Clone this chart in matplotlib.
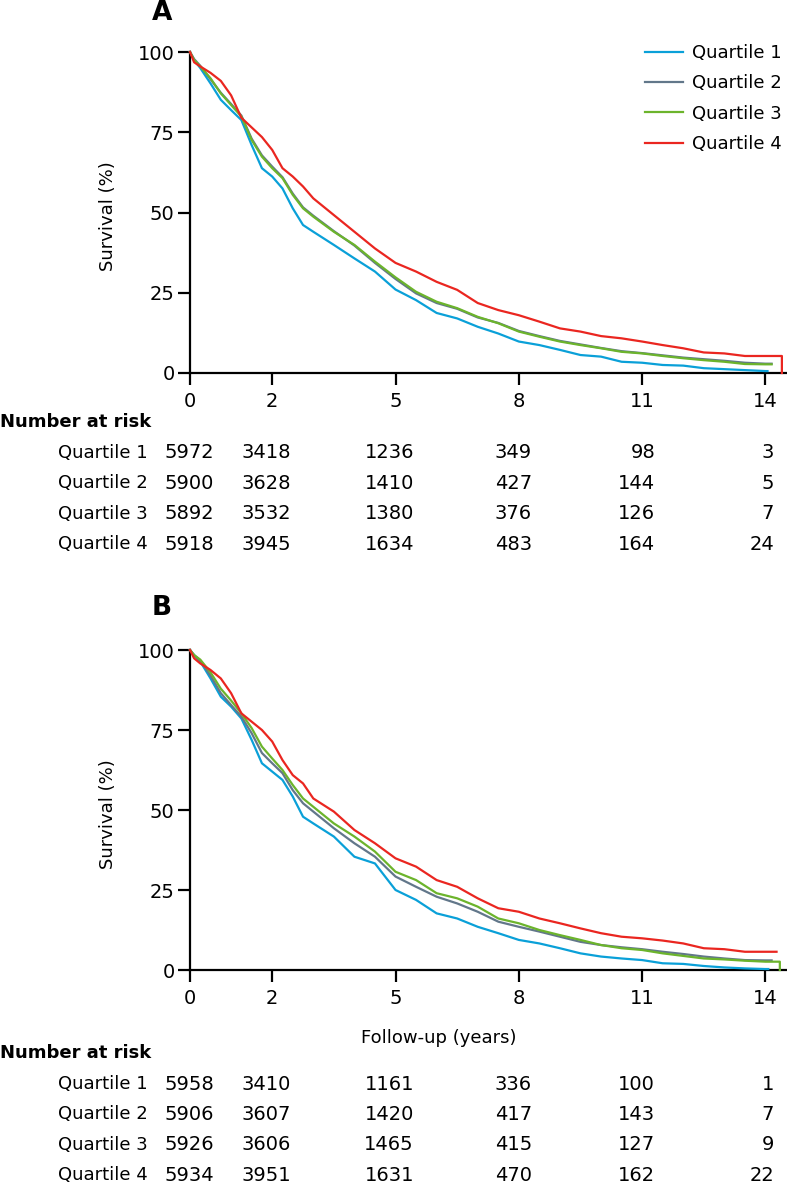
import numpy as np
import matplotlib
matplotlib.use("Agg")
import matplotlib.pyplot as plt

plt.rcParams["font.family"] = ["DejaVu Sans"]

labels = ["Quartile 1", "Quartile 2", "Quartile 3", "Quartile 4"]
colors = ["#0aa0d8", "#62778a", "#6cb42c", "#ea2620"]

ticks_x = [0, 2, 5, 8, 11, 14]
ticks_y = [0, 25, 50, 75, 100]

# survival (%)
years = [0, 0.1, 0.25, 0.5, 0.75, 1, 1.25, 1.5, 1.75, 2, 2.25, 2.5, 2.75, 3,
         3.5, 4, 4.5, 5, 5.5, 6, 6.5, 7, 7.5, 8, 8.5, 9, 9.5, 10, 10.5, 11,
         11.5, 12, 12.5, 13, 13.5, 14]

surv_a_q1 = [100, 97.5, 95, 90.2, 85.1, 81.9, 78.8, 71, 63.8, 61.2, 57.5, 51.3, 46.1, 44,
             39.9, 35.7, 31.6, 26, 22.7, 18.7, 17.0, 14.4, 12.3, 9.8, 8.7, 7.2, 5.6, 5.1,
             3.5, 3.2, 2.5, 2.3, 1.5, 1.2, 0.9, 0.6]
surv_a_q2 = [100, 97.8, 95.7, 91.5, 87.3, 83.8, 80.2, 73.0, 67.8, 64.3, 61.0, 55.9, 51.6, 49.0,
             44.2, 39.7, 34.3, 29.3, 24.8, 21.8, 20.0, 17.3, 15.6, 13.1, 11.5, 10.0, 8.9, 7.8,
             6.8, 6.2, 5.5, 4.8, 4.3, 3.8, 3.2, 2.9]
surv_a_q3 = [100, 97.5, 95.5, 91.8, 87.1, 83.5, 79.9, 72.6, 67.4, 63.8, 60.7, 55.5, 51.3, 48.7,
             44.0, 39.9, 34.7, 29.8, 25.3, 22.2, 20.2, 17.5, 15.5, 12.9, 11.3, 9.8, 8.7, 7.7,
             6.6, 6.1, 5.3, 4.6, 4.0, 3.5, 2.8, 2.7]
surv_a_q4 = [100, 96.8, 95.5, 93.5, 91.0, 86.5, 79.5, 76.5, 73.5, 69.5, 63.8, 61.2, 58.1, 54.4,
             49.2, 44.0, 38.8, 34.3, 31.6, 28.4, 25.9, 21.8, 19.6, 18.0, 16.0, 13.9, 12.9, 11.5,
             10.8, 9.8, 8.7, 7.7, 6.4, 6.1, 5.3, 5.3]
end_a = [14.05, 14.15, 14.15, 14.4]
drop_a = [False, False, False, True]

surv_b_q1 = [100, 98.4, 96.4, 91.1, 85.4, 82.3, 78.6, 71.9, 64.6, 62.0, 59.4, 54.2, 47.9, 45.8,
             41.7, 35.4, 33.3, 25.0, 21.9, 17.7, 16.1, 13.5, 11.5, 9.4, 8.3, 6.8, 5.2, 4.2,
             3.6, 3.1, 2.1, 1.9, 1.25, 0.8, 0.5, 0.3]
surv_b_q2 = [100, 98.4, 96.7, 92.0, 86.5, 82.8, 79.2, 74.0, 67.8, 64.6, 61.5, 56.2, 52.1, 49.5,
             44.3, 39.6, 35.4, 29.2, 26.0, 22.9, 20.8, 18.2, 15.1, 13.5, 12.0, 10.4, 8.8, 7.8,
             7.1, 6.5, 5.7, 5.0, 4.2, 3.6, 3.1, 3.0]
surv_b_q3 = [100, 98.4, 97.0, 93.0, 87.9, 84.2, 80.2, 75.6, 69.8, 66.1, 62.5, 57.8, 53.6, 51.0,
             45.8, 41.7, 37.0, 30.7, 28.1, 24.0, 22.4, 19.8, 16.1, 14.6, 12.5, 10.9, 9.4, 7.8,
             6.8, 6.25, 5.2, 4.4, 3.6, 3.3, 2.9, 2.6]
surv_b_q4 = [100, 97.4, 95.8, 93.75, 91.1, 86.5, 80.2, 77.6, 75.0, 71.4, 65.6, 60.9, 58.3, 53.6,
             49.5, 43.75, 39.6, 34.9, 32.3, 28.1, 26.0, 22.4, 19.3, 18.2, 16.1, 14.6, 13.0, 11.5,
             10.4, 9.9, 9.2, 8.3, 6.8, 6.5, 5.7, 5.7]
end_b = [14.07, 14.15, 14.35, 14.27]
drop_b = [False, False, True, False]

# number at risk at 0, 2, 5, 8, 11, 14 years
risk_a = [[5972, 3418, 1236, 349, 98, 3],
          [5900, 3628, 1410, 427, 144, 5],
          [5892, 3532, 1380, 376, 126, 7],
          [5918, 3945, 1634, 483, 164, 24]]
risk_b = [[5958, 3410, 1161, 336, 100, 1],
          [5906, 3607, 1420, 417, 143, 7],
          [5926, 3606, 1465, 415, 127, 9],
          [5934, 3951, 1631, 470, 162, 22]]

W, H = 787, 1184
fs = 13      # words
fs_num = 14  # numbers

fig = plt.figure(figsize=(W / 100, H / 100), dpi=100)


def fx(px):
    return px / W


def fy(py):
    return 1 - py / H


col_right_px = [214, 291, 414, 532, 655, 774]


def panel(top_px, bottom_px, curves, ends, drops, risk, letter, header_py, legend=False, xlabel=False):
    ax = fig.add_axes([fx(190), fy(bottom_px), fx(786) - fx(190), (bottom_px - top_px) / H])
    for i, s in enumerate(curves):
        t = list(years) + [ends[i]]
        v = list(s) + [s[-1]]
        if drops[i]:
            t.append(ends[i])
            v.append(0)
        ax.plot(t, v, color=colors[i], lw=1.6, label=labels[i], clip_on=False, zorder=3 + i)
    ax.set_xlim(0, 14.5)
    ax.set_ylim(0, 100)
    ax.set_xticks(ticks_x)
    ax.set_yticks(ticks_y)
    for sp in ["top", "right"]:
        ax.spines[sp].set_visible(False)
    for sp in ["left", "bottom"]:
        ax.spines[sp].set_linewidth(1.6)
    ax.tick_params(axis="both", length=8.5, width=1.6, labelsize=fs_num, direction="out")
    ax.tick_params(axis="x", pad=5)
    ax.tick_params(axis="y", pad=2.5)

    fig.text(fx(108), fy((top_px + bottom_px) / 2 + 4), "Survival (%)", rotation=90,
             ha="center", va="center", fontsize=fs)
    fig.text(fx(162), fy(header_py[0]), letter, ha="center", va="center",
             fontsize=19, fontweight="bold")

    if legend:
        ax.legend(loc="upper left", bbox_to_anchor=(fx(645), fy(44)),
                  bbox_transform=fig.transFigure, frameon=False, fontsize=fs,
                  borderpad=0, borderaxespad=0, handlelength=2.1, handletextpad=0.5,
                  labelspacing=0.68)
    if xlabel:
        fig.text(fx(439), fy(header_py[1]), "Follow-up (years)", ha="center",
                 va="center_baseline", fontsize=fs)

    # number at risk table
    fig.text(0, fy(header_py[2]), "Number at risk", ha="left", va="center_baseline",
             fontsize=fs, fontweight="bold")
    for r, row in enumerate(risk):
        yy = fy(header_py[3] + 30.4 * r)
        fig.text(fx(148), yy, labels[r], ha="right", va="center_baseline", fontsize=fs)
        for c, n in enumerate(row):
            fig.text(fx(col_right_px[c]), yy, str(n), ha="right",
                     va="center_baseline", fontsize=fs_num)
    return ax


panel(52, 373, [surv_a_q1, surv_a_q2, surv_a_q3, surv_a_q4], end_a, drop_a, risk_a,
      "A", [13, None, 420, 451], legend=True)
panel(650, 970, [surv_b_q1, surv_b_q2, surv_b_q3, surv_b_q4], end_b, drop_b, risk_b,
      "B", [608, 1036, 1051, 1082], xlabel=True)

fig.savefig("out.png", dpi=100)
